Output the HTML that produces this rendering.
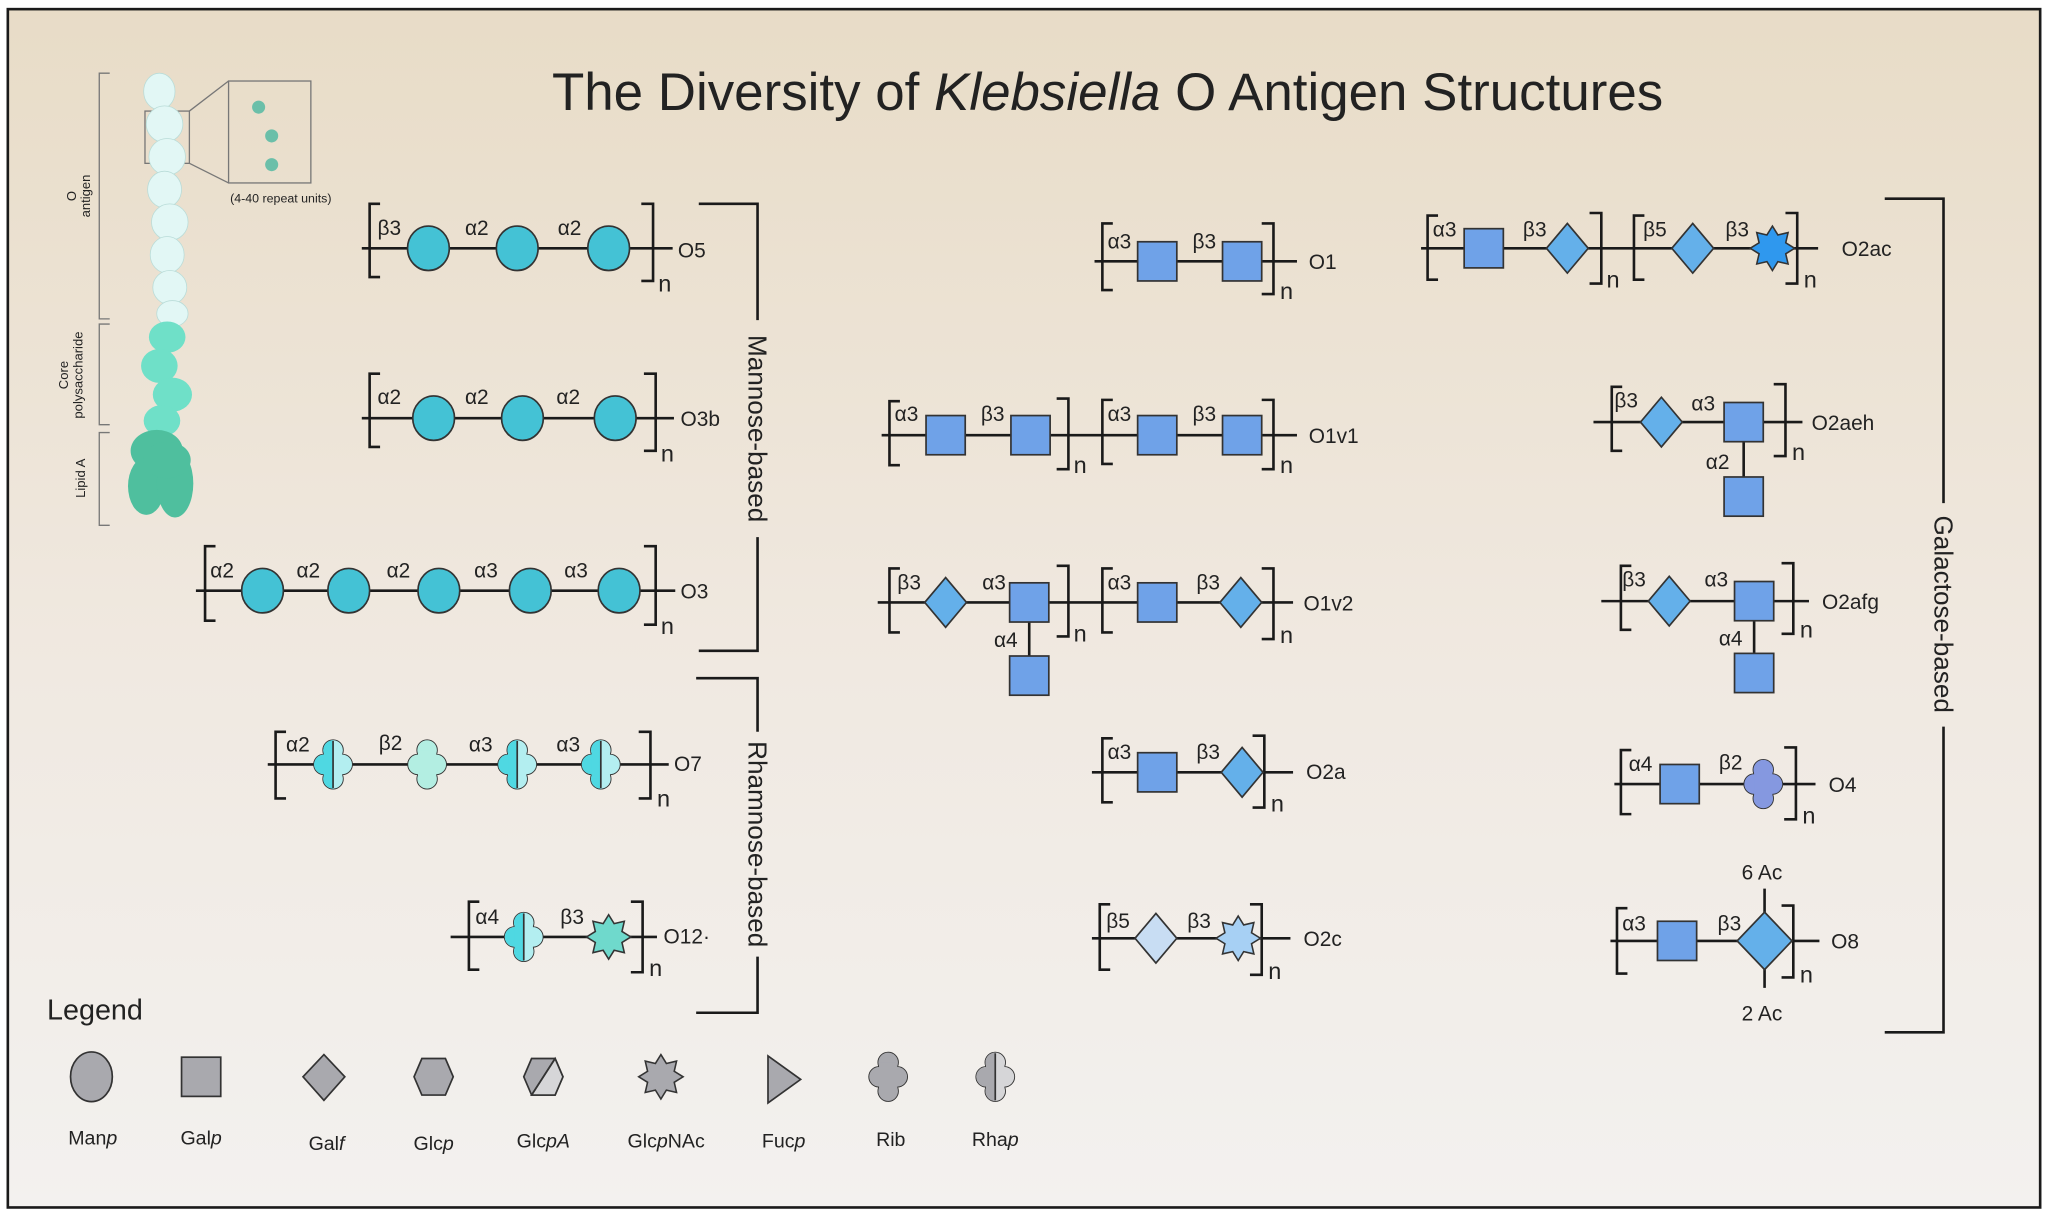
<!DOCTYPE html>
<html><head><meta charset="utf-8"><style>
html,body{margin:0;padding:0;background:#fff}
svg{display:block}
text{font-family:"Liberation Sans",sans-serif;fill:#222}
</style></head><body>
<svg width="2048" height="1214" viewBox="0 0 1568 929" preserveAspectRatio="none" xmlns="http://www.w3.org/2000/svg">
<defs>
<linearGradient id="bg" x1="0" y1="0" x2="0" y2="1">
<stop offset="0" stop-color="#e8dcc7"/><stop offset="0.55" stop-color="#f0e9e1"/><stop offset="1" stop-color="#f3f1ef"/>
</linearGradient>
<ellipse id="ci" cx="0" cy="0" rx="16" ry="17" stroke="#333" stroke-width="1.3"/>
<rect id="sq" x="-15" y="-15" width="30" height="30" stroke="#333" stroke-width="1.3"/>
<polygon id="di" points="0,-19 16,0 0,19 -16,0" stroke="#333" stroke-width="1.3"/>
<polygon id="st" points="0,-17 4.2,-10.2 12,-12 10.2,-4.2 17,0 10.2,4.2 12,12 4.2,10.2 0,17 -4.2,10.2 -12,12 -10.2,4.2 -17,0 -10.2,-4.2 -12,-12 -4.2,-10.2" stroke="#333" stroke-width="1.2"/>
<g id="clS" stroke="#333" stroke-width="1.4"><circle cx="0" cy="-11" r="7.5"/><circle cx="0" cy="11" r="7.5"/><circle cx="-7" cy="0" r="7.5"/><circle cx="7" cy="0" r="7.5"/></g>
<g id="clF" stroke="none"><circle cx="0" cy="-11" r="7.5"/><circle cx="0" cy="11" r="7.5"/><circle cx="-7" cy="0" r="7.5"/><circle cx="7" cy="0" r="7.5"/><rect x="-7" y="-11" width="14" height="22"/></g>
<clipPath id="lh"><rect x="-30" y="-30" width="30" height="60"/></clipPath>
<g id="rha"><use href="#clS" fill="#b3eef0"/><use href="#clF" fill="#b3eef0"/><g clip-path="url(#lh)"><use href="#clF" fill="#4fd8e2"/></g><line x1="0" y1="-18" x2="0" y2="18" stroke="#333" stroke-width="1.3"/></g>
<g id="rhaG"><use href="#clS" fill="#d6d6d8"/><use href="#clF" fill="#d6d6d8"/><g clip-path="url(#lh)"><use href="#clF" fill="#a9a9ae"/></g><line x1="0" y1="-18" x2="0" y2="18" stroke="#333" stroke-width="1.3"/></g>
</defs>
<rect x="0" y="0" width="1568" height="929" fill="#fff"/>
<rect x="6" y="7" width="1556" height="917" fill="url(#bg)" stroke="#1a1a1a" stroke-width="2"/>

<text x="848" y="84" font-size="40.5" text-anchor="middle" fill="#111">The Diversity of <tspan font-style="italic">Klebsiella</tspan> O Antigen Structures</text>

<!-- LPS figure -->
<g stroke="#777" stroke-width="1" fill="none">
<path d="M84,56 H76 V244 H84"/><path d="M84,248 H76 V325 H84"/><path d="M84,331 H76 V402 H84"/>
<rect x="175" y="62" width="63" height="78"/><rect x="111" y="85" width="34" height="40"/>
<line x1="145" y1="85" x2="175" y2="62"/><line x1="145" y1="125" x2="175" y2="140"/>
</g>
<text transform="translate(58,150) rotate(-90)" font-size="10" text-anchor="middle" fill="#555">O</text>
<text transform="translate(69,150) rotate(-90)" font-size="10" text-anchor="middle" fill="#555">antigen</text>
<text transform="translate(52,287) rotate(-90)" font-size="10" text-anchor="middle" fill="#555">Core</text>
<text transform="translate(63,287) rotate(-90)" font-size="10" text-anchor="middle" fill="#555">polysaccharide</text>
<text transform="translate(65,366) rotate(-90)" font-size="10" text-anchor="middle" fill="#555">Lipid A</text>
<text x="215" y="155" font-size="9.5" text-anchor="middle" fill="#444">(4-40 repeat units)</text>
<g fill="#e2f7f5" stroke="#b9dcd8" stroke-width="0.6">
<ellipse cx="122" cy="70" rx="12" ry="14"/><ellipse cx="126" cy="95" rx="14" ry="14"/><ellipse cx="128" cy="120" rx="14" ry="14"/><ellipse cx="126" cy="145" rx="13" ry="14"/><ellipse cx="130" cy="170" rx="14" ry="14"/><ellipse cx="128" cy="195" rx="13" ry="14"/><ellipse cx="130" cy="220" rx="13" ry="13"/><ellipse cx="132" cy="240" rx="12" ry="10"/>
</g>
<g fill="#6fe0c8"><ellipse cx="128" cy="258" rx="14" ry="12"/><ellipse cx="122" cy="280" rx="14" ry="13"/><ellipse cx="132" cy="302" rx="15" ry="13"/><ellipse cx="124" cy="322" rx="14" ry="12"/></g>
<g fill="#4fbf9e"><ellipse cx="120" cy="345" rx="20" ry="16"/><ellipse cx="112" cy="372" rx="14" ry="22"/><ellipse cx="134" cy="370" rx="14" ry="26"/><ellipse cx="128" cy="352" rx="18" ry="14"/></g>
<g fill="#6bbfa9"><circle cx="198" cy="82" r="5"/><circle cx="208" cy="104" r="5"/><circle cx="208" cy="126" r="5"/></g>

<g stroke="#1a1a1a" stroke-width="2" fill="none">
<line x1="277" y1="190" x2="515" y2="190"/>
<line x1="277" y1="320" x2="516" y2="320"/>
<line x1="150" y1="452" x2="517" y2="452"/>
<line x1="205" y1="585" x2="512" y2="585"/>
<line x1="345" y1="717" x2="503" y2="717"/>
<line x1="838" y1="200" x2="993" y2="200"/>
<line x1="675" y1="333" x2="993" y2="333"/>
<line x1="672" y1="461" x2="990" y2="461"/><line x1="788" y1="461" x2="788" y2="517"/>
<line x1="836" y1="591" x2="990" y2="591"/>
<line x1="836" y1="718" x2="988" y2="718"/>
<line x1="1088" y1="190" x2="1392" y2="190"/>
<line x1="1220" y1="323" x2="1380" y2="323"/><line x1="1335" y1="323" x2="1335" y2="380"/>
<line x1="1226" y1="460" x2="1385" y2="460"/><line x1="1343" y1="460" x2="1343" y2="515"/>
<line x1="1236" y1="600" x2="1390" y2="600"/>
<line x1="1233" y1="720" x2="1393" y2="720"/><line x1="1351" y1="680" x2="1351" y2="756"/>
<path d="M535,156 H580 V245"/><path d="M580,411 V498 H535"/>
<path d="M533,519 H580 V560"/><path d="M580,732 V775 H533"/>
<path d="M1443,152 H1488 V385"/><path d="M1488,556 V790 H1443"/>
</g>
<g stroke="#1a1a1a" stroke-width="2" fill="none">
<path d="M291,156 H283 V212 H291"/><path d="M491,156 H500 V215 H491"/>
<path d="M291,286 H283 V342 H291"/><path d="M493,286 H502 V345 H493"/>
<path d="M165,418 H157 V475 H165"/><path d="M493,418 H502 V478 H493"/>
<path d="M219,560 H211 V611 H219"/><path d="M489,560 H498 V611 H489"/>
<path d="M367,690 H359 V742 H367"/><path d="M483,690 H492 V744 H483"/>
<path d="M852,171 H844 V222 H852"/><path d="M966,171 H975 V225 H966"/>
<path d="M689,307 H681 V356 H689"/><path d="M809,305 H818 V359 H809"/>
<path d="M852,306 H844 V355 H852"/><path d="M966,306 H975 V359 H966"/>
<path d="M689,435 H681 V484 H689"/><path d="M809,433 H818 V487 H809"/>
<path d="M852,435 H844 V484 H852"/><path d="M966,435 H975 V489 H966"/>
<path d="M852,565 H844 V614 H852"/><path d="M959,563 H968 V618 H959"/>
<path d="M850,692 H842 V742 H850"/><path d="M957,692 H966 V746 H957"/>
<path d="M1101,165 H1093 V214 H1101"/><path d="M1217,163 H1226 V217 H1217"/>
<path d="M1259,165 H1251 V214 H1259"/><path d="M1367,163 H1376 V217 H1367"/>
<path d="M1242,296 H1234 V345 H1242"/><path d="M1358,294 H1367 V349 H1358"/>
<path d="M1249,433 H1241 V482 H1249"/><path d="M1364,431 H1373 V485 H1364"/>
<path d="M1249,574 H1241 V623 H1249"/><path d="M1366,572 H1375 V627 H1366"/>
<path d="M1246,695 H1238 V745 H1246"/><path d="M1364,693 H1373 V748 H1364"/>
</g>

<g fill="#44c2d5">
<use href="#ci" x="328" y="190"/><use href="#ci" x="396" y="190"/><use href="#ci" x="466" y="190"/>
<use href="#ci" x="332" y="320"/><use href="#ci" x="400" y="320"/><use href="#ci" x="471" y="320"/>
<use href="#ci" x="201" y="452"/><use href="#ci" x="267" y="452"/><use href="#ci" x="336" y="452"/><use href="#ci" x="406" y="452"/><use href="#ci" x="474" y="452"/>
</g>
<use href="#rha" x="255" y="585"/>
<use href="#clS" x="327" y="585" fill="#b3eee2"/><use href="#clF" x="327" y="585" fill="#b3eee2"/>
<use href="#rha" x="396" y="585"/><use href="#rha" x="460" y="585"/>
<use href="#rha" x="401" y="717"/>
<use href="#st" x="466" y="717" fill="#6fd9cc"/>

<g fill="#6fa2e8">
<use href="#sq" x="886" y="200"/><use href="#sq" x="951" y="200"/>
<use href="#sq" x="724" y="333"/><use href="#sq" x="789" y="333"/><use href="#sq" x="886" y="333"/><use href="#sq" x="951" y="333"/>
<use href="#sq" x="788" y="461"/><use href="#sq" x="788" y="517"/><use href="#sq" x="886" y="461"/>
<use href="#sq" x="886" y="591"/>
<use href="#sq" x="1136" y="190"/>
<use href="#sq" x="1335" y="323"/><use href="#sq" x="1335" y="380"/>
<use href="#sq" x="1343" y="460"/><use href="#sq" x="1343" y="515"/>
<use href="#sq" x="1286" y="600"/>
<use href="#sq" x="1284" y="720"/>
</g>
<g fill="#64b0ea">
<use href="#di" x="724" y="461"/><use href="#di" x="950" y="461"/><use href="#di" x="951" y="591"/>
<use href="#di" x="1200" y="190"/><use href="#di" x="1296" y="190"/>
<use href="#di" x="1272" y="323"/><use href="#di" x="1278" y="460"/>
</g>
<polygon points="1351,698 1372,720 1351,742 1330,720" fill="#64b0ea" stroke="#333" stroke-width="1.3"/>
<use href="#di" x="885" y="718" fill="#c8ddf3"/>
<use href="#st" x="948" y="718" fill="#a7d0f4"/>
<use href="#st" x="1357" y="190" fill="#2f98ee"/>
<use href="#clS" x="1350" y="600" fill="#8598e0"/><use href="#clF" x="1350" y="600" fill="#8598e0"/>

<g font-size="16" fill="#222">
<text x="289" y="180">β3</text><text x="356" y="180">α2</text><text x="427" y="180">α2</text>
<text x="289" y="309">α2</text><text x="356" y="309">α2</text><text x="426" y="309">α2</text>
<text x="161" y="442">α2</text><text x="227" y="442">α2</text><text x="296" y="442">α2</text><text x="363" y="442">α3</text><text x="432" y="442">α3</text>
<text x="219" y="575">α2</text><text x="290" y="574">β2</text><text x="359" y="575">α3</text><text x="426" y="575">α3</text>
<text x="364" y="707">α4</text><text x="429" y="707">β3</text>
<text x="848" y="190">α3</text><text x="913" y="190">β3</text>
<text x="685" y="322">α3</text><text x="751" y="322">β3</text><text x="848" y="322">α3</text><text x="913" y="322">β3</text>
<text x="687" y="451">β3</text><text x="752" y="451">α3</text><text x="761" y="495">α4</text><text x="848" y="451">α3</text><text x="916" y="451">β3</text>
<text x="848" y="581">α3</text><text x="916" y="581">β3</text>
<text x="847" y="710">β5</text><text x="909" y="710">β3</text>
<text x="1097" y="181">α3</text><text x="1166" y="181">β3</text><text x="1258" y="181">β5</text><text x="1321" y="181">β3</text>
<text x="1236" y="312">β3</text><text x="1295" y="314">α3</text><text x="1306" y="359">α2</text>
<text x="1242" y="449">β3</text><text x="1305" y="449">α3</text><text x="1316" y="494">α4</text>
<text x="1247" y="590">α4</text><text x="1316" y="589">β2</text>
<text x="1242" y="712">α3</text><text x="1315" y="712">β3</text>
<text x="1349" y="673" text-anchor="middle">6 Ac</text><text x="1349" y="781" text-anchor="middle">2 Ac</text>
</g>
<g font-size="18" fill="#222">
<text x="504" y="223">n</text><text x="506" y="353">n</text><text x="506" y="485">n</text><text x="503" y="617">n</text><text x="497" y="747">n</text>
<text x="980" y="229">n</text><text x="822" y="362">n</text><text x="980" y="362">n</text><text x="822" y="491">n</text><text x="980" y="492">n</text><text x="973" y="621">n</text><text x="971" y="749">n</text>
<text x="1230" y="220">n</text><text x="1381" y="220">n</text><text x="1372" y="352">n</text><text x="1378" y="488">n</text><text x="1380" y="630">n</text><text x="1378" y="752">n</text>
</g>
<g font-size="16" fill="#222">
<text x="519" y="197">O5</text><text x="521" y="326">O3b</text><text x="521" y="458">O3</text><text x="516" y="590">O7</text><text x="508" y="722">O12·</text>
<text x="1002" y="206">O1</text><text x="1002" y="339">O1v1</text><text x="998" y="467">O1v2</text><text x="1000" y="596">O2a</text><text x="998" y="724">O2c</text>
<text x="1410" y="196">O2ac</text><text x="1387" y="329">O2aeh</text><text x="1395" y="466">O2afg</text><text x="1400" y="606">O4</text><text x="1402" y="726">O8</text>
</g>
<g font-size="20" fill="#111" text-anchor="middle">
<text transform="translate(573,328) rotate(90)">Mannose-based</text>
<text transform="translate(573,646) rotate(90)">Rhamnose-based</text>
<text transform="translate(1481,470) rotate(90)">Galactose-based</text>
</g>

<text x="36" y="780" font-size="22" fill="#222">Legend</text>
<g fill="#a9a9ae" stroke="#333" stroke-width="1.3">
<ellipse cx="70" cy="824" rx="16" ry="19"/>
<rect x="139" y="809" width="30" height="30"/>
<polygon points="248,807 264,824 248,842 232,824"/>
<polygon points="323,810 341,810 347,824 341,838 323,838 317,824"/>
<polygon points="407,810 425,810 431,824 425,838 407,838 401,824"/>
<polygon points="588,808 613,826 588,844"/>
</g>
<polygon points="425,810 431,824 425,838 407,838" fill="#d6d6d8" stroke="#333" stroke-width="1.3"/>
<line x1="425" y1="810" x2="407" y2="838" stroke="#333" stroke-width="1.3"/>
<use href="#st" x="506" y="824" fill="#a9a9ae"/>
<use href="#clS" x="680" y="824" fill="#a9a9ae"/><use href="#clF" x="680" y="824" fill="#a9a9ae"/>
<use href="#rhaG" x="762" y="824"/>
<g font-size="15" fill="#222" text-anchor="middle">
<text x="71" y="876">Man<tspan font-style="italic">p</tspan></text>
<text x="154" y="876">Gal<tspan font-style="italic">p</tspan></text>
<text x="250" y="880">Gal<tspan font-style="italic">f</tspan></text>
<text x="332" y="880">Glc<tspan font-style="italic">p</tspan></text>
<text x="416" y="878">Glc<tspan font-style="italic">pA</tspan></text>
<text x="510" y="878">Glc<tspan font-style="italic">p</tspan>NAc</text>
<text x="600" y="878">Fuc<tspan font-style="italic">p</tspan></text>
<text x="682" y="877">Rib</text>
<text x="762" y="877">Rha<tspan font-style="italic">p</tspan></text>
</g>
</svg>
</body></html>
